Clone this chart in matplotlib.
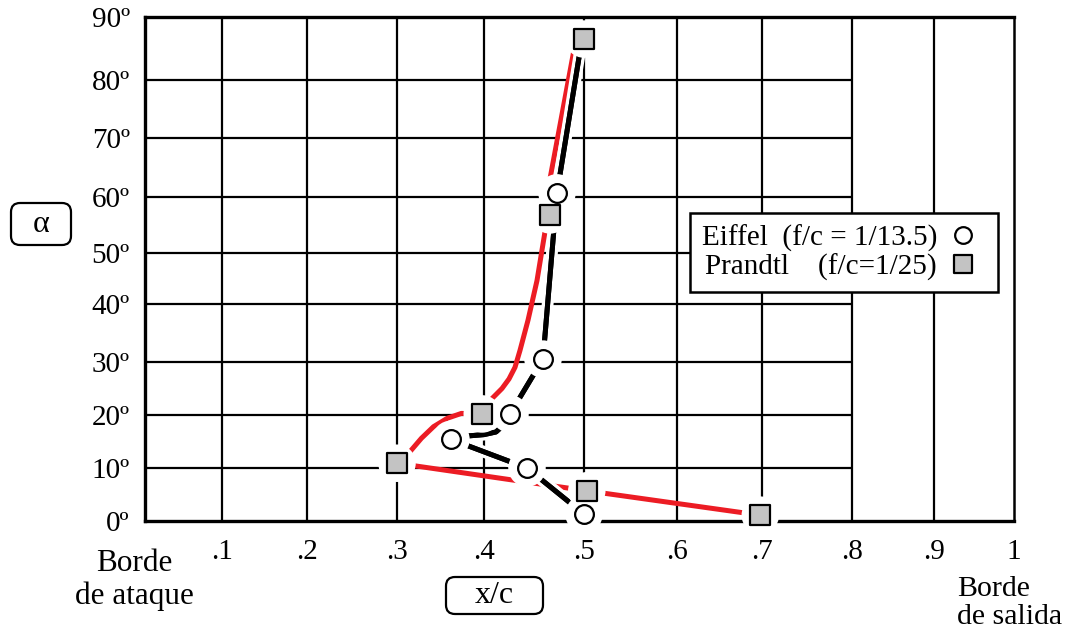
import numpy as np
import matplotlib.pyplot as plt
import matplotlib.patheffects as pe
from matplotlib.lines import Line2D
from matplotlib.markers import MarkerStyle
from matplotlib.patches import FancyBboxPatch
from matplotlib.transforms import IdentityTransform

plt.rcParams['font.family'] = ['Liberation Serif', 'DejaVu Serif']

# measured points, x/c vs angle of attack (deg)
eiffel_x = [0.500, 0.443, 0.362, 0.426, 0.459, 0.473]
eiffel_a = [1.3, 10.0, 15.4, 20.2, 30.5, 60.7]
prandtl_x = [0.698, 0.503, 0.300, 0.398, 0.466, 0.500]
prandtl_a = [1.1, 5.7, 10.9, 20.2, 56.8, 86.5]

# hand-traced curves through the points
eiffel_curve_x = [0.500, 0.443, 0.362, 0.378, 0.400, 0.412, 0.419, 0.426, 0.459, 0.473, 0.498]
eiffel_curve_a = [1.3, 10.0, 15.4, 16.0, 16.3, 16.8, 18.0, 20.2, 30.5, 60.7, 86.5]
prandtl_curve_x = [0.698, 0.503, 0.300, 0.315, 0.328, 0.342, 0.358, 0.374, 0.398,
                   0.408, 0.418, 0.425, 0.431, 0.436, 0.444, 0.453, 0.461, 0.462, 0.492]
prandtl_curve_a = [1.1, 5.7, 10.9, 13.1, 15.6, 17.8, 19.4, 20.3, 20.2,
                   23.1, 25.0, 26.8, 29.0, 32.0, 37.2, 44.6, 53.8, 59.4, 86.5]

x_ticks = [0.1, 0.2, 0.3, 0.4, 0.5, 0.6, 0.7, 0.8, 0.9, 1.0]
x_labels = ['.1', '.2', '.3', '.4', '.5', '.6', '.7', '.8', '.9', '1']
a_ticks = [0, 10, 20, 30, 40, 50, 60, 70, 80, 90]
a_labels = ['%dº' % t for t in a_ticks]

# the printed grid is not evenly spaced, so the axes follow it piecewise
x_grid_vals = [0, .1, .2, .3, .4, .5, .6, .7, .8, .9, 1.0]
x_grid_pos = [0, 77, 162, 252, 339, 439, 532, 617, 707, 789, 869]
a_grid_vals = [0, 10, 20, 30, 40, 50, 60, 70, 80, 90]
a_grid_pos = [0, 53, 106, 159, 217, 268, 324, 383, 441, 504]


def x_fwd(v):
    return np.interp(v, x_grid_vals, x_grid_pos)


def x_inv(p):
    return np.interp(p, x_grid_pos, x_grid_vals)


def a_fwd(v):
    return np.interp(v, a_grid_vals, a_grid_pos)


def a_inv(p):
    return np.interp(p, a_grid_pos, a_grid_vals)


fig = plt.figure(figsize=(10.77, 6.31), dpi=100)
ax = fig.add_axes([145 / 1077, 1 - 521 / 631, 869 / 1077, 504 / 631])
ax.set_xscale('function', functions=(x_fwd, x_inv))
ax.set_yscale('function', functions=(a_fwd, a_inv))
ax.set_xlim(0, 1)
ax.set_ylim(0, 90)

# grid: horizontals stop at .8, verticals run full height
ax.vlines(x_ticks[:-1], 0, 90, color='black', lw=1.6, zorder=1)
ax.hlines(a_ticks[1:-1], 0, 0.8, color='black', lw=1.6, zorder=1)
for side in ['left', 'top', 'bottom']:
    ax.spines[side].set_linewidth(2.4)
ax.spines['right'].set_linewidth(1.8)

ax.set_xticks(x_ticks)
ax.set_xticklabels(x_labels)
ax.set_yticks(a_ticks)
ax.set_yticklabels(a_labels)
ax.xaxis.set_minor_locator(plt.NullLocator())
ax.yaxis.set_minor_locator(plt.NullLocator())
ax.tick_params(axis='x', length=0, pad=13, labelsize=21)
ax.tick_params(axis='y', length=0, pad=11, labelsize=21)

red = '#ec1c24'
ax.plot(prandtl_curve_x, prandtl_curve_a, color=red, lw=3.6,
        solid_capstyle='round', solid_joinstyle='round', zorder=3)
ax.plot(eiffel_curve_x, eiffel_curve_a, color='black', lw=3.6,
        solid_capstyle='round', solid_joinstyle='round', zorder=3.5,
        path_effects=[pe.withStroke(linewidth=8.5, foreground='white'), pe.Normal()])

# white clearance around every marker, then the markers themselves
ax.scatter(eiffel_x + prandtl_x, eiffel_a + prandtl_a, s=27 ** 2, c='white',
           edgecolors='none', zorder=4, clip_on=False)
square = MarkerStyle('s', joinstyle='round')
ax.plot(eiffel_x, eiffel_a, 'o', ms=13.5, mfc='white', mec='black', mew=1.6,
        zorder=5, clip_on=False)
ax.plot(prandtl_x, prandtl_a, ls='none', marker=square, ms=14, mfc='#c3c3c3',
        mec='black', mew=1.6, zorder=5, clip_on=False)

handles = [
    Line2D([], [], ls='none', marker='o', ms=12, mfc='white', mec='black', mew=1.6),
    Line2D([], [], ls='none', marker=square, ms=13, mfc='#c3c3c3', mec='black', mew=1.6),
]
leg = ax.legend(handles, ['Eiffel  (f/c = 1/13.5)', 'Prandtl    (f/c=1/25)'],
                markerfirst=False, loc='upper left',
                bbox_to_anchor=(690 / 1077, 1 - 213 / 631),
                bbox_transform=fig.transFigure, borderaxespad=0,
                fontsize=21, frameon=True, fancybox=False, framealpha=1,
                edgecolor='black', borderpad=0.4, labelspacing=0.05,
                handletextpad=0.1, handlelength=1.6)
leg.get_frame().set_linewidth(1.8)
leg.set_zorder(6)

fig.text(134 / 1077, 1 - 580 / 631, 'Borde\nde ataque', ha='center', va='center',
         fontsize=22.5, linespacing=1.12, multialignment='center')
fig.text(957 / 1077, 1 - 603 / 631, 'Borde\nde salida', ha='left', va='center',
         fontsize=21.5, linespacing=1.15, multialignment='left')

# rounded label boxes for the axis names
for (x0, y0, x1, y1), label in [((11, 203, 71, 245), 'α'),
                                ((446, 577, 543, 614), 'x/c')]:
    box = FancyBboxPatch((x0, 631 - y1), x1 - x0, y1 - y0,
                         boxstyle='round,pad=0,rounding_size=9',
                         transform=IdentityTransform(), fc='white',
                         ec='black', lw=1.6)
    fig.add_artist(box)
    fig.text((x0 + x1) / 2 / 1077, 1 - (y0 + y1) / 2 / 631, label,
             ha='center', va='center', fontsize=23)

fig.savefig('out.png', dpi=100)
